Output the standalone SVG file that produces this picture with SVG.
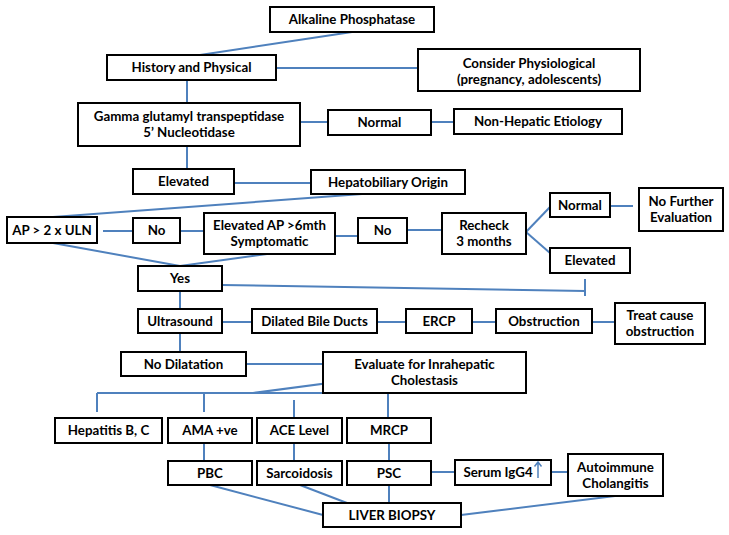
<svg xmlns="http://www.w3.org/2000/svg" width="729" height="535" viewBox="0 0 729 535">
<style>
.b{fill:#fff;stroke:#000;stroke-width:2}
.t{font-family:Lato,"Liberation Sans",sans-serif;font-weight:bold;font-size:13.3px;fill:#000;text-anchor:middle}
.c line{stroke:#4F81BD;stroke-width:2;fill:none}
</style>
<rect width="729" height="535" fill="#fff"/>
<g class="c" id="connectors">
<line x1="352" y1="32" x2="200" y2="55"/>
<line x1="276" y1="68" x2="418" y2="68"/>
<line x1="187" y1="80" x2="187" y2="103"/>
<line x1="300" y1="122" x2="328" y2="122"/>
<line x1="431" y1="122" x2="454" y2="122"/>
<line x1="187" y1="146" x2="187" y2="169"/>
<line x1="234" y1="183" x2="311" y2="183"/>
<line x1="362" y1="194" x2="53" y2="217"/>
<line x1="103" y1="231" x2="133" y2="231"/>
<line x1="180" y1="231" x2="204" y2="231"/>
<line x1="335" y1="236" x2="358" y2="236"/>
<line x1="407" y1="230" x2="442" y2="230"/>
<line x1="526" y1="232" x2="550" y2="207"/>
<line x1="526" y1="232" x2="550" y2="253"/>
<line x1="610" y1="206" x2="633" y2="206"/>
<line x1="53" y1="243" x2="180" y2="266"/>
<line x1="267" y1="254" x2="180" y2="266"/>
<line x1="222" y1="285" x2="585" y2="291"/>
<line x1="585" y1="279" x2="585" y2="296"/>
<line x1="180" y1="291" x2="180" y2="309"/>
<line x1="222" y1="322" x2="252" y2="322"/>
<line x1="377" y1="322" x2="406" y2="322"/>
<line x1="472" y1="322" x2="496" y2="322"/>
<line x1="592" y1="322" x2="615" y2="322"/>
<line x1="180" y1="333" x2="180" y2="352"/>
<line x1="246" y1="364" x2="323" y2="364"/>
<line x1="382" y1="376" x2="253" y2="393"/>
<line x1="97" y1="393" x2="388" y2="393"/>
<line x1="97" y1="393" x2="97" y2="412"/>
<line x1="204" y1="393" x2="204" y2="412"/>
<line x1="294" y1="400" x2="294" y2="417"/>
<line x1="388" y1="393" x2="388" y2="418"/>
<line x1="204" y1="443" x2="204" y2="461"/>
<line x1="294" y1="443" x2="294" y2="461"/>
<line x1="389" y1="443" x2="389" y2="461"/>
<line x1="431" y1="472" x2="455" y2="472"/>
<line x1="551" y1="472" x2="568" y2="472"/>
<line x1="210" y1="485" x2="323" y2="515"/>
<line x1="300" y1="485" x2="347" y2="503"/>
<line x1="389" y1="485" x2="389" y2="503"/>
<line x1="615" y1="496" x2="461" y2="515"/>
</g>
<g id="n1"><rect class="b" x="270" y="7" width="164" height="25"/><text class="t" x="352" y="24">Alkaline Phosphatase</text></g>
<g id="n2"><rect class="b" x="107" y="55" width="169" height="25"/><text class="t" x="191.5" y="72">History and Physical</text></g>
<g id="n3"><rect class="b" x="418" y="49" width="222" height="42"/><text class="t" x="529" y="67.5">Consider Physiological</text><text class="t" x="529" y="83.5">(pregnancy, adolescents)</text></g>
<g id="n4"><rect class="b" x="78" y="103" width="222" height="43"/><text class="t" x="189" y="121">Gamma glutamyl transpeptidase</text><text class="t" x="189" y="137">5’ Nucleotidase</text></g>
<g id="n5"><rect class="b" x="328" y="110" width="103" height="25"/><text class="t" x="379.5" y="127">Normal</text></g>
<g id="n6"><rect class="b" x="454" y="109" width="168" height="25"/><text class="t" x="538" y="126">Non-Hepatic Etiology</text></g>
<g id="n7"><rect class="b" x="133" y="169" width="101" height="25"/><text class="t" x="183.5" y="186">Elevated</text></g>
<g id="n8"><rect class="b" x="311" y="170" width="154" height="24"/><text class="t" x="388" y="186.5">Hepatobiliary  Origin</text></g>
<g id="n9"><rect class="b" x="7" y="217" width="90" height="26"/><text class="t" x="52" y="234.5">AP &gt; 2 x ULN</text></g>
<g id="n10"><rect class="b" x="133" y="218" width="47" height="25"/><text class="t" x="156.5" y="235">No</text></g>
<g id="n11"><rect class="b" x="204" y="213" width="131" height="41"/><text class="t" x="269.5" y="230">Elevated AP &gt;6mth</text><text class="t" x="269.5" y="246">Symptomatic</text></g>
<g id="n12"><rect class="b" x="358" y="218" width="49" height="25"/><text class="t" x="382.5" y="235">No</text></g>
<g id="n13"><rect class="b" x="442" y="213" width="84" height="41"/><text class="t" x="484" y="230">Recheck</text><text class="t" x="484" y="246">3 months</text></g>
<g id="n14"><rect class="b" x="550" y="193" width="60" height="24"/><text class="t" x="580" y="209.5">Normal</text></g>
<g id="n15"><rect class="b" x="639" y="188" width="84" height="43"/><text class="t" x="681" y="206">No Further</text><text class="t" x="681" y="222">Evaluation</text></g>
<g id="n16"><rect class="b" x="550" y="248" width="80" height="25"/><text class="t" x="590" y="265">Elevated</text></g>
<g id="n17"><rect class="b" x="138" y="266" width="84" height="25"/><text class="t" x="180" y="283">Yes</text></g>
<g id="n18"><rect class="b" x="138" y="309" width="84" height="24"/><text class="t" x="180" y="325.5">Ultrasound</text></g>
<g id="n19"><rect class="b" x="252" y="309" width="125" height="24"/><text class="t" x="314.5" y="325.5">Dilated Bile Ducts</text></g>
<g id="n20"><rect class="b" x="406" y="309" width="66" height="24"/><text class="t" x="439" y="325.5">ERCP</text></g>
<g id="n21"><rect class="b" x="496" y="309" width="96" height="24"/><text class="t" x="544" y="325.5">Obstruction</text></g>
<g id="n22"><rect class="b" x="615" y="303" width="90" height="41"/><text class="t" x="660" y="320">Treat cause</text><text class="t" x="660" y="336">obstruction</text></g>
<g id="n23"><rect class="b" x="121" y="352" width="125" height="24"/><text class="t" x="183.5" y="368.5">No Dilatation</text></g>
<g id="n24"><rect class="b" x="323" y="352" width="203" height="41"/><text class="t" x="424.5" y="369">Evaluate for Inrahepatic</text><text class="t" x="424.5" y="385">Cholestasis</text></g>
<g id="n25"><rect class="b" x="55" y="418" width="107" height="25"/><text class="t" x="108.5" y="435">Hepatitis B, C</text></g>
<g id="n26"><rect class="b" x="168" y="418" width="84" height="25"/><text class="t" x="210" y="435">AMA +ve</text></g>
<g id="n27"><rect class="b" x="257" y="418" width="85" height="25"/><text class="t" x="299.5" y="435">ACE Level</text></g>
<g id="n28"><rect class="b" x="347" y="418" width="84" height="25"/><text class="t" x="389" y="435">MRCP</text></g>
<g id="n29"><rect class="b" x="168" y="461" width="84" height="24"/><text class="t" x="210" y="477.5">PBC</text></g>
<g id="n30"><rect class="b" x="257" y="461" width="85" height="24"/><text class="t" x="299.5" y="477.5">Sarcoidosis</text></g>
<g id="n31"><rect class="b" x="347" y="461" width="84" height="24"/><text class="t" x="389" y="477.5">PSC</text></g>
<g id="n32"><rect class="b" x="455" y="460" width="96" height="25"/><text class="t" x="498" y="477">Serum IgG4</text><path d="M538 478V462M534.5 466.5L538 462L541.5 466.5" stroke="#4F81BD" stroke-width="1.5" fill="none"/></g>
<g id="n33"><rect class="b" x="568" y="454" width="95" height="42"/><text class="t" x="615.5" y="472">Autoimmune</text><text class="t" x="615.5" y="488">Cholangitis</text></g>
<g id="n34"><rect class="b" x="323" y="503" width="138" height="24"/><text class="t" x="392" y="519.5">LIVER BIOPSY</text></g>
</svg>
